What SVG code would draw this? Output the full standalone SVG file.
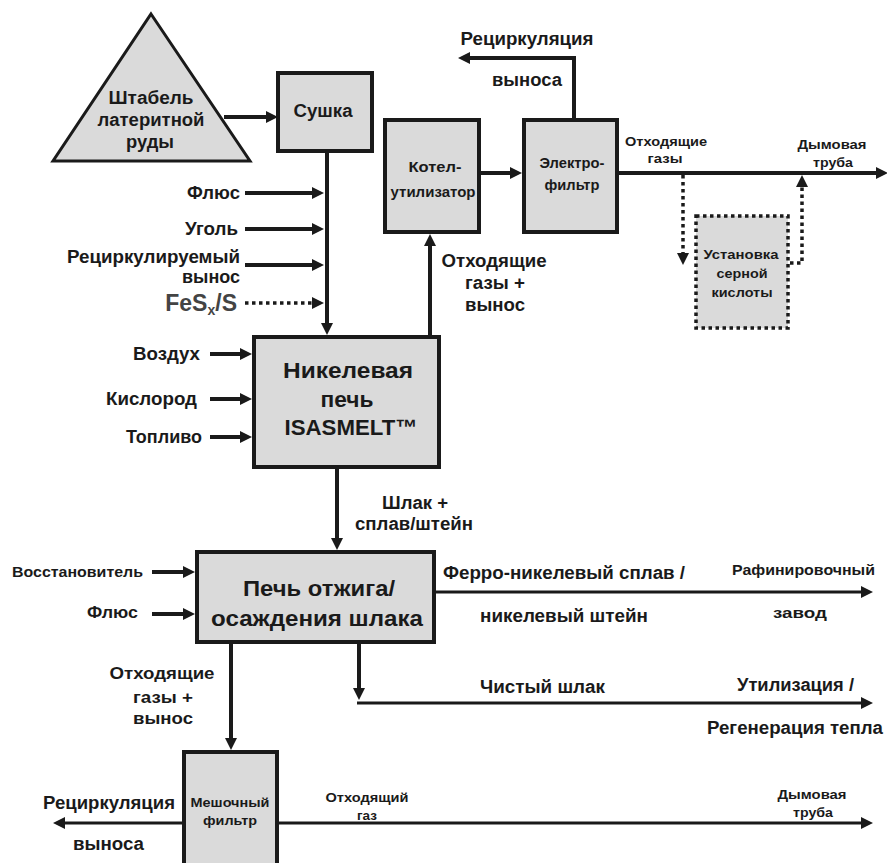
<svg xmlns="http://www.w3.org/2000/svg" width="887" height="863" viewBox="0 0 887 863">
<defs>
<style>
.t{font-family:"Liberation Sans",Arial,sans-serif;font-weight:bold;fill:#1a1a1a}
.c{text-anchor:middle}
.e{text-anchor:end}
.box{fill:#dadada;stroke:#1a1a1a;stroke-width:4}
.ln{fill:none;stroke:#1a1a1a;stroke-width:4}
.th{fill:none;stroke:#1a1a1a;stroke-width:3}
.dot{fill:none;stroke:#1a1a1a;stroke-width:3.5;stroke-dasharray:3.5 3.5}
</style>
<marker id="a" viewBox="0 0 12 12" refX="4" refY="6" markerWidth="12" markerHeight="12" markerUnits="userSpaceOnUse" orient="auto"><path d="M0,0 L12,6 L0,12 Z" fill="#1a1a1a"/></marker>
</defs>
<rect width="887" height="863" fill="#ffffff"/>

<g id="connectors">
<path class="ln" d="M224,117 H270" marker-end="url(#a)"/>
<path class="ln" d="M327,151 V327" marker-end="url(#a)"/>
<path class="ln" d="M245,193 H316" marker-end="url(#a)"/>
<path class="ln" d="M245,229 H316" marker-end="url(#a)"/>
<path class="ln" d="M245,265 H316" marker-end="url(#a)"/>
<path class="dot" d="M245,303 H316" marker-end="url(#a)"/>
<path class="ln" d="M210,354 H244" marker-end="url(#a)"/>
<path class="ln" d="M210,399 H244" marker-end="url(#a)"/>
<path class="ln" d="M210,437 H244" marker-end="url(#a)"/>
<path class="ln" d="M430,335 V242" marker-end="url(#a)"/>
<path class="ln" d="M481,173 H514" marker-end="url(#a)"/>
<path class="ln" d="M574,118 V58 H466" marker-end="url(#a)"/>
<path class="ln" d="M619,173 H880" marker-end="url(#a)"/>
<path class="dot" d="M683,175 V257" marker-end="url(#a)"/>
<path class="dot" d="M790,263 H802 V183" marker-end="url(#a)"/>
<path class="ln" d="M337,469 V542" marker-end="url(#a)"/>
<path class="ln" d="M152,572 H187" marker-end="url(#a)"/>
<path class="ln" d="M152,614 H187" marker-end="url(#a)"/>
<path class="th" d="M436,592 H865" marker-end="url(#a)"/>
<path class="ln" d="M359,644 V692" marker-end="url(#a)"/>
<path class="th" d="M357,703 H865" marker-end="url(#a)"/>
<path class="ln" d="M231,644 V742" marker-end="url(#a)"/>
<path class="th" d="M182,823 H61" marker-end="url(#a)"/>
<path class="th" d="M279,823 H865" marker-end="url(#a)"/>
</g>

<g id="pile">
<polygon points="151,14 250,161 53,161" fill="#dadada" stroke="#1a1a1a" stroke-width="3" stroke-linejoin="miter"/>
<text class="t c" x="151" y="104" font-size="17.5" textLength="85" lengthAdjust="spacingAndGlyphs">Штабель</text>
<text class="t c" x="151" y="126" font-size="17.5" textLength="107" lengthAdjust="spacingAndGlyphs">латеритной</text>
<text class="t c" x="150" y="148" font-size="17.5" textLength="48" lengthAdjust="spacingAndGlyphs">руды</text>
</g>

<g id="dryer">
<rect class="box" x="278" y="73" width="94" height="78"/>
<text class="t c" x="323" y="117" font-size="17.5" textLength="59" lengthAdjust="spacingAndGlyphs">Сушка</text>
</g>

<g id="boiler">
<rect class="box" x="385" y="120" width="94" height="112"/>
<text class="t c" x="435" y="172" font-size="14.5" textLength="53" lengthAdjust="spacingAndGlyphs">Котел-</text>
<text class="t c" x="433" y="197" font-size="14.5" textLength="85" lengthAdjust="spacingAndGlyphs">утилизатор</text>
</g>

<g id="esp">
<rect class="box" x="524" y="120" width="93" height="112"/>
<text class="t c" x="572" y="168" font-size="14.5" textLength="65" lengthAdjust="spacingAndGlyphs">Электро-</text>
<text class="t c" x="572" y="190" font-size="14.5" textLength="55" lengthAdjust="spacingAndGlyphs">фильтр</text>
</g>

<g id="acid-plant">
<rect x="696" y="216" width="92" height="112" fill="#dadada" stroke="#1a1a1a" stroke-width="3.5" stroke-dasharray="3.5 3.5"/>
<text class="t c" x="741" y="259" font-size="13.5" textLength="75" lengthAdjust="spacingAndGlyphs">Установка</text>
<text class="t c" x="742" y="278" font-size="13.5" textLength="51" lengthAdjust="spacingAndGlyphs">серной</text>
<text class="t c" x="742" y="297" font-size="13.5" textLength="61" lengthAdjust="spacingAndGlyphs">кислоты</text>
</g>

<g id="isasmelt">
<rect class="box" x="254" y="337" width="185" height="130"/>
<text class="t c" x="348" y="378" font-size="22.5" textLength="130" lengthAdjust="spacingAndGlyphs">Никелевая</text>
<text class="t c" x="347" y="407" font-size="22.5" textLength="53" lengthAdjust="spacingAndGlyphs">печь</text>
<text class="t c" x="351" y="435" font-size="22.5" textLength="133" lengthAdjust="spacingAndGlyphs">ISASMELT™</text>
</g>

<g id="slag-furnace">
<rect class="box" x="197" y="552" width="237" height="90"/>
<text class="t c" x="319" y="596" font-size="22.5" textLength="152" lengthAdjust="spacingAndGlyphs">Печь отжига/</text>
<text class="t c" x="317" y="626" font-size="22.5" textLength="212" lengthAdjust="spacingAndGlyphs">осаждения шлака</text>
</g>

<g id="baghouse">
<rect class="box" x="184" y="752" width="93" height="130"/>
<text class="t c" x="230" y="807" font-size="13.5" textLength="79" lengthAdjust="spacingAndGlyphs">Мешочный</text>
<text class="t c" x="230" y="825" font-size="13.5" textLength="54" lengthAdjust="spacingAndGlyphs">фильтр</text>
</g>

<g id="labels">
<text class="t e" x="240" y="199" font-size="17.5" textLength="53" lengthAdjust="spacingAndGlyphs">Флюс</text>
<text class="t e" x="238" y="235" font-size="17.5" textLength="53" lengthAdjust="spacingAndGlyphs">Уголь</text>
<text class="t e" x="240" y="263" font-size="17.5" textLength="173" lengthAdjust="spacingAndGlyphs">Рециркулируемый</text>
<text class="t e" x="240" y="283" font-size="17.5" textLength="58" lengthAdjust="spacingAndGlyphs">вынос</text>
<text class="t e" x="237" y="311" font-size="23" style="fill:#444">FeS<tspan font-size="14" dy="4">x</tspan><tspan dy="-4">/S</tspan></text>
<text class="t c" x="527" y="45" font-size="17.5" textLength="133" lengthAdjust="spacingAndGlyphs">Рециркуляция</text>
<text class="t c" x="527" y="86" font-size="17.5" textLength="70" lengthAdjust="spacingAndGlyphs">выноса</text>
<text class="t c" x="666" y="146" font-size="13.5" textLength="82" lengthAdjust="spacingAndGlyphs">Отходящие</text>
<text class="t c" x="665" y="163" font-size="13.5" textLength="35" lengthAdjust="spacingAndGlyphs">газы</text>
<text class="t c" x="832" y="149" font-size="13.5" textLength="69" lengthAdjust="spacingAndGlyphs">Дымовая</text>
<text class="t c" x="833" y="167" font-size="13.5" textLength="40" lengthAdjust="spacingAndGlyphs">труба</text>
<text class="t c" x="494" y="267" font-size="17.5" textLength="105" lengthAdjust="spacingAndGlyphs">Отходящие</text>
<text class="t c" x="495" y="289" font-size="17.5" textLength="60" lengthAdjust="spacingAndGlyphs">газы +</text>
<text class="t c" x="495" y="311" font-size="17.5" textLength="60" lengthAdjust="spacingAndGlyphs">вынос</text>
<text class="t e" x="200" y="360" font-size="17.5" textLength="67" lengthAdjust="spacingAndGlyphs">Воздух</text>
<text class="t e" x="197" y="405" font-size="17.5" textLength="91" lengthAdjust="spacingAndGlyphs">Кислород</text>
<text class="t e" x="202" y="443" font-size="17.5" textLength="76" lengthAdjust="spacingAndGlyphs">Топливо</text>
<text class="t c" x="415" y="509" font-size="17.5" textLength="66" lengthAdjust="spacingAndGlyphs">Шлак +</text>
<text class="t c" x="414" y="530" font-size="17.5" textLength="118" lengthAdjust="spacingAndGlyphs">сплав/штейн</text>
<text class="t e" x="143" y="577" font-size="15" textLength="131" lengthAdjust="spacingAndGlyphs">Восстановитель</text>
<text class="t e" x="138" y="618" font-size="17" textLength="51" lengthAdjust="spacingAndGlyphs">Флюс</text>
<text class="t" x="443" y="579" font-size="17.5" textLength="242" lengthAdjust="spacingAndGlyphs">Ферро-никелевый сплав /</text>
<text class="t" x="732" y="575" font-size="14.5" textLength="143" lengthAdjust="spacingAndGlyphs">Рафинировочный</text>
<text class="t" x="480" y="622" font-size="17.5" textLength="168" lengthAdjust="spacingAndGlyphs">никелевый штейн</text>
<text class="t" x="773" y="618" font-size="14.5" textLength="54" lengthAdjust="spacingAndGlyphs">завод</text>
<text class="t" x="480" y="693" font-size="17.5" textLength="125" lengthAdjust="spacingAndGlyphs">Чистый шлак</text>
<text class="t" x="737" y="691" font-size="17.5" textLength="117" lengthAdjust="spacingAndGlyphs">Утилизация /</text>
<text class="t" x="707" y="734" font-size="17.5" textLength="176" lengthAdjust="spacingAndGlyphs">Регенерация тепла</text>
<text class="t c" x="162" y="679" font-size="17" textLength="105" lengthAdjust="spacingAndGlyphs">Отходящие</text>
<text class="t c" x="163" y="703" font-size="17" textLength="60" lengthAdjust="spacingAndGlyphs">газы +</text>
<text class="t c" x="163" y="724" font-size="17" textLength="60" lengthAdjust="spacingAndGlyphs">вынос</text>
<text class="t" x="43" y="809" font-size="17.5" textLength="132" lengthAdjust="spacingAndGlyphs">Рециркуляция</text>
<text class="t" x="73" y="850" font-size="17.5" textLength="71" lengthAdjust="spacingAndGlyphs">выноса</text>
<text class="t c" x="367" y="802" font-size="13.5" textLength="83" lengthAdjust="spacingAndGlyphs">Отходящий</text>
<text class="t c" x="367" y="820" font-size="13.5" textLength="20" lengthAdjust="spacingAndGlyphs">газ</text>
<text class="t c" x="812" y="799" font-size="13.5" textLength="69" lengthAdjust="spacingAndGlyphs">Дымовая</text>
<text class="t c" x="813" y="817" font-size="13.5" textLength="40" lengthAdjust="spacingAndGlyphs">труба</text>
</g>
</svg>
